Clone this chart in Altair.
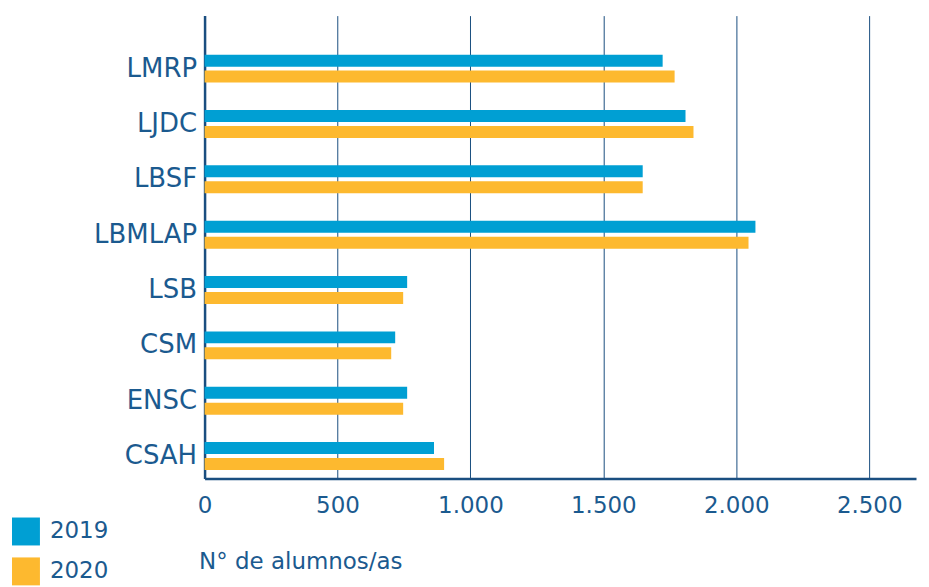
import altair as alt
import pandas as pd

categories = ["LMRP", "LJDC", "LBSF", "LBMLAP", "LSB", "CSM", "ENSC", "CSAH"]
years = ["2019", "2020"]
values_2019 = [1723, 1809, 1648, 2072, 762, 717, 762, 863]
values_2020 = [1768, 1839, 1648, 2046, 747, 702, 747, 901]
x_ticks = [0, 500, 1000, 1500, 2000, 2500]
colors = ["#009fd3", "#fdb92f"]

rows = []
for c, a, b in zip(categories, values_2019, values_2020):
    rows.append({"centro": c, "anio": years[0], "alumnos": a})
    rows.append({"centro": c, "anio": years[1], "alumnos": b})
df = pd.DataFrame(rows)

TEXT = "#1b5a8f"
AXIS = "#1a4e80"
FONT = "DejaVu Sans"

chart = alt.Chart(df).mark_bar().encode(
    x=alt.X(
        "alumnos:Q",
        scale=alt.Scale(domain=[0, 2676], nice=False, zero=True),
        axis=alt.Axis(
            values=x_ticks,
            labelExpr="replace(format(datum.value, ','), ',', '.')",
            title="N° de alumnos/as",
            titleFont=FONT, titleFontSize=23, titleFontWeight="normal", titleColor=TEXT,
            titleAnchor="start", titleAlign="left", titleBaseline="alphabetic",
            titleX=-6, titleY=90,
            labelFont=FONT, labelFontSize=23, labelColor=TEXT,
            labelBaseline="alphabetic", labelPadding=34, labelFlush=False,
            ticks=False, grid=True, gridColor=AXIS, gridWidth=1,
            domainColor=AXIS, domainWidth=2.5,
        ),
    ),
    y=alt.Y(
        "centro:N",
        sort=categories,
        scale=alt.Scale(paddingInner=0.495, paddingOuter=0.43, align=0.82),
        axis=alt.Axis(
            title=None, labelFont=FONT, labelFontSize=26, labelColor=TEXT,
            labelPadding=8, ticks=False, grid=False,
            domainColor=AXIS, domainWidth=2.5,
        ),
    ),
    yOffset=alt.YOffset("anio:N", scale=alt.Scale(paddingInner=0.25, paddingOuter=0)),
    color=alt.Color(
        "anio:N",
        scale=alt.Scale(domain=years, range=colors),
        legend=alt.Legend(
            title=None, orient="none", legendX=-193, legendY=503,
            symbolType="square", symbolSize=784, symbolStrokeWidth=0, symbolOpacity=1,
            labelFont=FONT, labelFontSize=23, labelColor=TEXT, labelOffset=10,
            rowPadding=12, padding=0,
        ),
    ),
).properties(
    width=713,
    height=464,
    autosize=alt.AutoSizeParams(type="none"),
    padding={"left": 197, "top": 7, "right": 5, "bottom": 110},
).configure_view(stroke=None)

chart.save("out.html", embed_options={"renderer": "svg", "actions": False})
